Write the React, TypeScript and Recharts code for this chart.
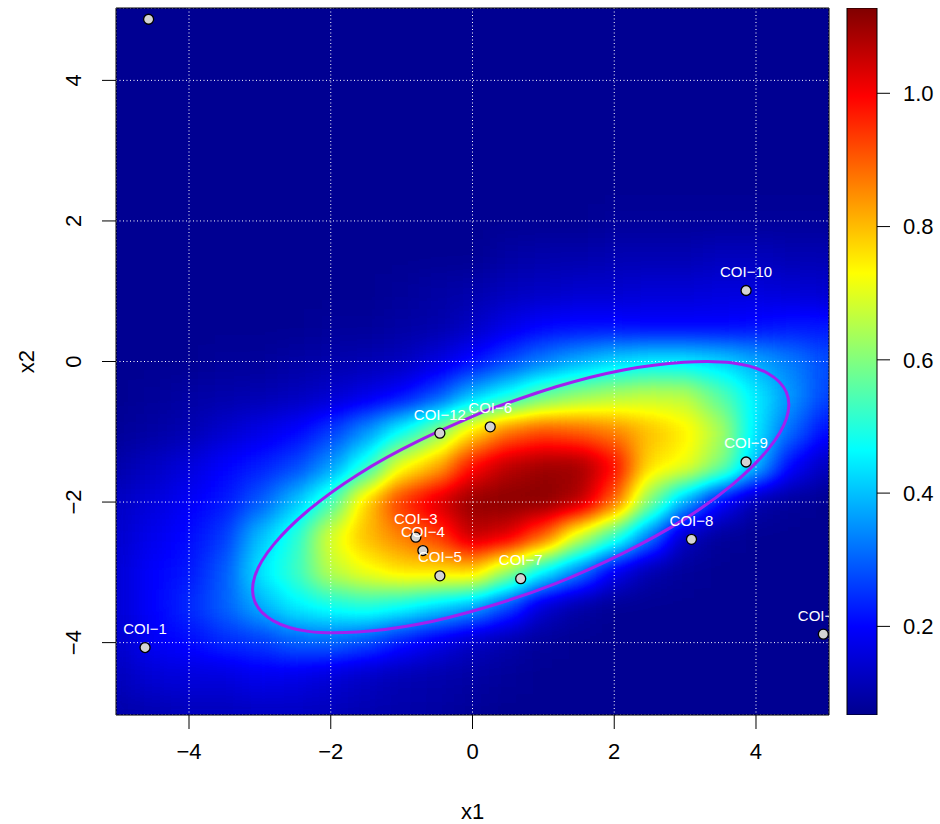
import React from "react";
import {
  ComposedChart,
  BarChart,
  Bar,
  Scatter,
  Line,
  XAxis,
  YAxis,
  CartesianGrid,
  ReferenceArea,
} from "recharts";

const FONT = "'Liberation Sans', Arial, Helvetica, sans-serif";

// surface grid: x1 across, x2 rows from +5 down to -5
const gridX1 = [-5, -4.5, -4, -3.5, -3, -2.5, -2, -1.5, -1, -0.5, 0, 0.5, 1, 1.5, 2, 2.5, 3, 3.5, 4, 4.5, 5];
const gridX2 = [5, 4.5, 4, 3.5, 3, 2.5, 2, 1.5, 1, 0.5, 0, -0.5, -1, -1.5, -2, -2.5, -3, -3.5, -4, -4.5, -5];

const surface = [
  [0.07, 0.07, 0.07, 0.07, 0.07, 0.07, 0.07, 0.07, 0.07, 0.07, 0.07, 0.07, 0.07, 0.07, 0.07, 0.07, 0.07, 0.07, 0.07, 0.07, 0.07],
  [0.07, 0.07, 0.07, 0.07, 0.07, 0.07, 0.07, 0.07, 0.07, 0.07, 0.07, 0.07, 0.07, 0.07, 0.07, 0.07, 0.07, 0.07, 0.07, 0.07, 0.07],
  [0.07, 0.07, 0.07, 0.07, 0.07, 0.07, 0.07, 0.07, 0.07, 0.07, 0.07, 0.07, 0.07, 0.07, 0.07, 0.07, 0.07, 0.07, 0.07, 0.07, 0.07],
  [0.07, 0.07, 0.07, 0.07, 0.07, 0.07, 0.07, 0.07, 0.07, 0.07, 0.07, 0.07, 0.07, 0.07, 0.07, 0.07, 0.07, 0.07, 0.07, 0.07, 0.07],
  [0.07, 0.07, 0.07, 0.07, 0.07, 0.07, 0.07, 0.07, 0.07, 0.07, 0.07, 0.07, 0.07, 0.07, 0.07, 0.07, 0.07, 0.07, 0.07, 0.07, 0.07],
  [0.07, 0.07, 0.07, 0.07, 0.07, 0.07, 0.07, 0.07, 0.07, 0.07, 0.07, 0.07, 0.07, 0.07, 0.07, 0.07, 0.07, 0.07, 0.07, 0.07, 0.07],
  [0.07, 0.07, 0.07, 0.07, 0.07, 0.07, 0.07, 0.07, 0.07, 0.07, 0.07, 0.07, 0.07, 0.07, 0.08, 0.08, 0.08, 0.08, 0.08, 0.08, 0.08],
  [0.07, 0.07, 0.07, 0.07, 0.07, 0.07, 0.07, 0.07, 0.07, 0.07, 0.07, 0.09, 0.1, 0.1, 0.11, 0.11, 0.11, 0.12, 0.12, 0.11, 0.11],
  [0.07, 0.07, 0.07, 0.07, 0.07, 0.07, 0.07, 0.07, 0.08, 0.09, 0.1, 0.12, 0.13, 0.14, 0.14, 0.15, 0.15, 0.16, 0.16, 0.15, 0.14],
  [0.07, 0.07, 0.07, 0.07, 0.07, 0.07, 0.08, 0.08, 0.09, 0.1, 0.13, 0.17, 0.2, 0.21, 0.21, 0.2, 0.2, 0.2, 0.21, 0.22, 0.22],
  [0.07, 0.07, 0.07, 0.08, 0.08, 0.09, 0.1, 0.11, 0.12, 0.16, 0.21, 0.27, 0.33, 0.38, 0.42, 0.44, 0.44, 0.42, 0.38, 0.33, 0.28],
  [0.07, 0.08, 0.09, 0.1, 0.11, 0.12, 0.14, 0.17, 0.21, 0.28, 0.4, 0.48, 0.57, 0.62, 0.65, 0.67, 0.66, 0.56, 0.45, 0.36, 0.27],
  [0.08, 0.09, 0.11, 0.14, 0.17, 0.2, 0.26, 0.35, 0.47, 0.6, 0.76, 0.88, 0.92, 0.9, 0.86, 0.8, 0.75, 0.65, 0.44, 0.31, 0.21],
  [0.1, 0.13, 0.16, 0.2, 0.23, 0.27, 0.36, 0.5, 0.72, 0.81, 0.99, 1.07, 1.1, 1.1, 1.0, 0.76, 0.72, 0.6, 0.4, 0.2, 0.12],
  [0.13, 0.16, 0.19, 0.22, 0.29, 0.4, 0.53, 0.78, 0.95, 1.04, 1.11, 1.12, 1.12, 1.08, 0.9, 0.6, 0.38, 0.2, 0.1, 0.08, 0.07],
  [0.14, 0.18, 0.21, 0.26, 0.4, 0.5, 0.7, 0.8, 0.86, 0.93, 1.06, 1.03, 0.9, 0.68, 0.52, 0.33, 0.12, 0.08, 0.07, 0.07, 0.07],
  [0.15, 0.2, 0.22, 0.29, 0.44, 0.52, 0.66, 0.72, 0.76, 0.76, 0.78, 0.62, 0.45, 0.33, 0.18, 0.1, 0.08, 0.07, 0.07, 0.07, 0.07],
  [0.15, 0.2, 0.24, 0.3, 0.38, 0.45, 0.48, 0.5, 0.47, 0.42, 0.37, 0.27, 0.14, 0.09, 0.07, 0.07, 0.07, 0.07, 0.07, 0.07, 0.07],
  [0.14, 0.19, 0.21, 0.24, 0.26, 0.3, 0.31, 0.28, 0.22, 0.17, 0.13, 0.1, 0.08, 0.07, 0.07, 0.07, 0.07, 0.07, 0.07, 0.07, 0.07],
  [0.12, 0.15, 0.16, 0.16, 0.18, 0.17, 0.15, 0.13, 0.11, 0.1, 0.09, 0.08, 0.07, 0.07, 0.07, 0.07, 0.07, 0.07, 0.07, 0.07, 0.07],
  [0.1, 0.11, 0.12, 0.12, 0.13, 0.13, 0.12, 0.11, 0.1, 0.09, 0.08, 0.07, 0.07, 0.07, 0.07, 0.07, 0.07, 0.07, 0.07, 0.07, 0.07],
];

const coiNames = ["COI\u22121", "COI\u22122", "COI\u22123", "COI\u22124", "COI\u22125", "COI\u22126", "COI\u22127", "COI\u22128", "COI\u22129", "COI\u221210", "COI\u221211", "COI\u221212"];
const coiX1 = [-4.62, -4.57, -0.8, -0.7, -0.46, 0.25, 0.68, 3.09, 3.86, 3.86, 4.95, -0.46];
const coiX2 = [-4.07, 4.87, -2.5, -2.69, -3.05, -0.93, -3.09, -2.53, -1.43, 1.01, -3.88, -1.02];

// outline read around the purple ellipse
const ellipseX1 = [0.19, -0.76, -1.62, -2.32, -2.81, -3.07, -3.07, -2.81, -2.32, -1.62, -0.77, 0.18, 1.17, 2.12, 2.98, 3.68, 4.17, 4.43, 4.43, 4.17, 3.68, 2.98, 2.13, 1.18, 0.19];
const ellipseX2 = [-0.7, -1.13, -1.61, -2.12, -2.61, -3.05, -3.42, -3.69, -3.84, -3.85, -3.74, -3.5, -3.16, -2.73, -2.25, -1.74, -1.25, -0.81, -0.44, -0.17, -0.02, -0.01, -0.12, -0.36, -0.7];

const axisTicks = [-4, -2, 0, 2, 4];
const axisDomain = [-5.03, 5.03];
const levelTicks = [0.2, 0.4, 0.6, 0.8, 1.0];
const levelRange = [0.067, 1.128];

// jet colour ramp, 9 evenly spaced knots
const jetR = [0, 0, 0, 0, 0.5, 1, 1, 1, 0.5];
const jetG = [0, 0, 0.5, 1, 1, 1, 0.5, 0, 0];
const jetB = [0.5625, 1, 1, 1, 0.5, 0, 0, 0, 0];

const W = 940;
const H = 824;
const PLOT = { left: 116, top: 8, right: 829, bottom: 715 };
const AXIS_FONT = 22;
const span = axisDomain[1] - axisDomain[0];
const cellW = ((PLOT.right - PLOT.left) / span) * (gridX1[1] - gridX1[0]) + 1;
const cellH = ((PLOT.bottom - PLOT.top) / span) * (gridX2[0] - gridX2[1]) + 1;

const heatCells = surface.flatMap((row, i) => row.map((v, j) => ({ x: gridX1[j], y: gridX2[i], v })));
const coiPoints = coiNames.map((name, i) => ({ name, x: coiX1[i], y: coiX2[i] }));
const ellipse = ellipseX1.map((x, i) => ({ x, y: ellipseX2[i] }));
const colorbarData = [{ name: "level", range: levelRange }];

const fmt = (v: number) => (v < 0 ? "\u2212" + Math.abs(v) : String(v));

const toGray = (v: number) => {
  const t = Math.min(1, Math.max(0, (v - levelRange[0]) / (levelRange[1] - levelRange[0])));
  const g = Math.round(t * 255);
  return `rgb(${g},${g},${g})`;
};

const HeatCell = (p: any) => (
  <rect x={p.cx - cellW / 2} y={p.cy - cellH / 2} width={cellW} height={cellH} fill={toGray(p.payload.v)} />
);

const CoiMark = (p: any) => (
  <g>
    <circle cx={p.cx} cy={p.cy} r={5} fill="#D3D3D3" stroke="#000" strokeWidth={1.3} />
    <text x={p.cx} y={p.cy - 13.5} textAnchor="middle" fontSize={15} fontFamily={FONT} fill="#fff">
      {p.payload.name}
    </text>
  </g>
);

const XTick = (p: any) => (
  <text x={p.x} y={p.y} dy="0.71em" textAnchor="middle" fontSize={AXIS_FONT} fontFamily={FONT} fill="#000">
    {fmt(p.payload.value)}
  </text>
);

const YTick = (p: any) => (
  <text x={p.x} y={p.y} transform={`rotate(-90 ${p.x} ${p.y})`} textAnchor="middle" fontSize={AXIS_FONT} fontFamily={FONT} fill="#000">
    {fmt(p.payload.value)}
  </text>
);

const XTitle = (p: any) => {
  const vb = p.viewBox;
  return (
    <text x={vb.x + vb.width / 2} y={vb.y + vb.height - 5} textAnchor="middle" fontSize={AXIS_FONT} fontFamily={FONT} fill="#000">
      x1
    </text>
  );
};

const YTitle = (p: any) => {
  const vb = p.viewBox;
  const x = vb.x + 34;
  const y = vb.y + vb.height / 2;
  return (
    <text x={x} y={y} transform={`rotate(-90 ${x} ${y})`} textAnchor="middle" fontSize={AXIS_FONT} fontFamily={FONT} fill="#000">
      x2
    </text>
  );
};

const knotColor = (i: number) =>
  `rgb(${Math.round(jetR[i] * 255)},${Math.round(jetG[i] * 255)},${Math.round(jetB[i] * 255)})`;

const layer: React.CSSProperties = { position: "absolute", left: 0, top: 0 };
const chartMargin = { top: PLOT.top, right: W - PLOT.right, bottom: 0, left: 0 };

// bottom layer: the smoothed surface only
function SurfaceLayer() {
  return (
    <ComposedChart width={W} height={H} margin={chartMargin}>
      <XAxis type="number" dataKey="x" domain={axisDomain} allowDataOverflow ticks={axisTicks}
        height={H - PLOT.bottom} axisLine={false} tickLine={false} tick={false} />
      <YAxis type="number" dataKey="y" domain={axisDomain} allowDataOverflow ticks={axisTicks}
        width={PLOT.left} axisLine={false} tickLine={false} tick={false} />
      <Scatter data={heatCells} shape={HeatCell} className="heat-field" isAnimationActive={false} />
    </ComposedChart>
  );
}

export default function App() {
  return (
    <div style={{ position: "absolute", left: 0, top: 0, width: W, height: H, background: "#fff" }}>
      <style>{`.heat-field { filter: url(#heatField); }`}</style>
      <svg width={0} height={0} style={{ position: "absolute" }}>
        <defs>
          <filter id="heatField" colorInterpolationFilters="sRGB">
            <feGaussianBlur stdDeviation={13} />
            <feComponentTransfer>
              <feFuncR type="table" tableValues={jetR.join(" ")} />
              <feFuncG type="table" tableValues={jetG.join(" ")} />
              <feFuncB type="table" tableValues={jetB.join(" ")} />
              <feFuncA type="table" tableValues="1 1" />
            </feComponentTransfer>
          </filter>
        </defs>
      </svg>

      <div style={layer}>
        <SurfaceLayer />
      </div>

      <div style={layer}>
        <ComposedChart width={W} height={H} margin={chartMargin}>
          <XAxis
            type="number"
            dataKey="x"
            domain={axisDomain}
            allowDataOverflow
            ticks={axisTicks}
            height={H - PLOT.bottom}
            axisLine={false}
            tickSize={14}
            tickMargin={14}
            tickLine={{ stroke: "#000" }}
            tick={<XTick />}
            label={<XTitle />}
          />
          <YAxis
            type="number"
            dataKey="y"
            domain={axisDomain}
            allowDataOverflow
            ticks={axisTicks}
            width={PLOT.left}
            axisLine={false}
            tickSize={14}
            tickMargin={21}
            tickLine={{ stroke: "#000" }}
            tick={<YTick />}
            label={<YTitle />}
          />
          <CartesianGrid stroke="#ffffff" strokeDasharray="1 2.5" />
          <Line
            data={ellipse}
            dataKey="y"
            type="natural"
            stroke="#A020F0"
            strokeWidth={3}
            dot={false}
            activeDot={false}
            isAnimationActive={false}
          />
          <Scatter data={coiPoints} shape={CoiMark} isAnimationActive={false} />
          <ReferenceArea
            x1={axisDomain[0]}
            x2={axisDomain[1]}
            y1={axisDomain[0]}
            y2={axisDomain[1]}
            fill="none"
            stroke="#000"
            ifOverflow="visible"
          />
        </ComposedChart>
      </div>

      <div style={layer}>
        <BarChart
          width={W}
          height={H}
          data={colorbarData}
          margin={{ top: PLOT.top, right: 3, bottom: H - PLOT.bottom, left: 847 }}
          barCategoryGap={0}
        >
          <defs>
            <linearGradient id="levelGrad" x1="0" y1="1" x2="0" y2="0">
              {jetR.map((_, i) => (
                <stop key={i} offset={i / (jetR.length - 1)} stopColor={knotColor(i)} />
              ))}
            </linearGradient>
          </defs>
          <XAxis dataKey="name" hide height={0} />
          <YAxis
            type="number"
            orientation="right"
            domain={levelRange}
            allowDataOverflow
            ticks={levelTicks}
            width={60}
            axisLine={false}
            tickSize={13}
            tickMargin={13}
            tickLine={{ stroke: "#000" }}
            tick={{ fontSize: AXIS_FONT, fontFamily: FONT, fill: "#000" }}
            tickFormatter={(v: number) => v.toFixed(1)}
          />
          <Bar dataKey="range" fill="url(#levelGrad)" stroke="#000" strokeWidth={1} isAnimationActive={false} />
        </BarChart>
      </div>
    </div>
  );
}
